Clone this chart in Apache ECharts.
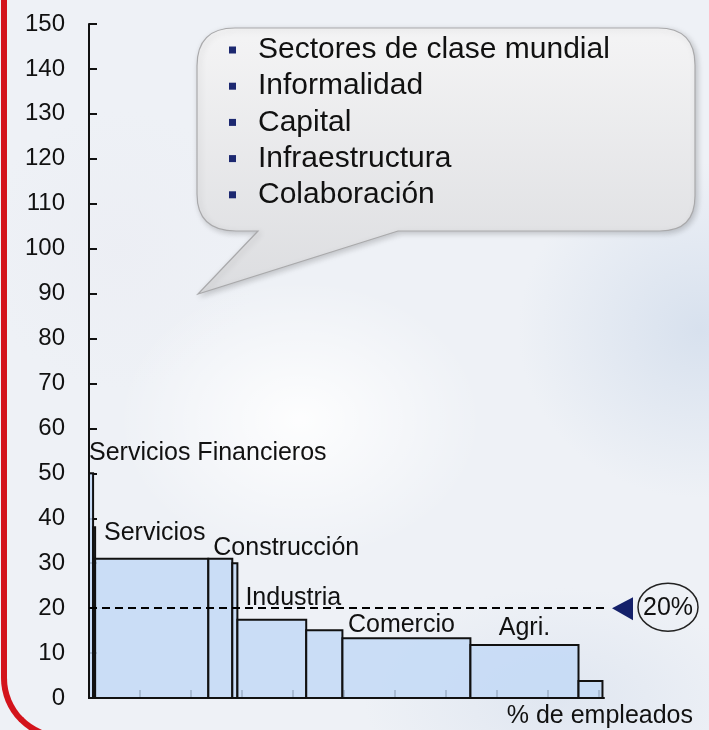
<!doctype html>
<html>
<head>
<meta charset="UTF-8">
<title>% de empleados</title>
<script src="https://cdn.jsdelivr.net/npm/echarts@6/dist/echarts.min.js"></script>
<style>
    html, body { margin: 0; padding: 0; }
    body {
        width: 709px; height: 730px; overflow: hidden; position: relative;
        background:
            radial-gradient(ellipse 260px 200px at 300px 420px, rgba(255,255,255,0.9), rgba(255,255,255,0) 70%),
            radial-gradient(ellipse 260px 240px at 700px 330px, rgba(210,221,236,0.8), rgba(210,221,236,0) 70%),
            radial-gradient(ellipse 200px 200px at 120px 250px, rgba(236,238,244,0.9), rgba(236,238,244,0) 70%),
            radial-gradient(ellipse 280px 160px at 560px 700px, rgba(222,229,240,0.9), rgba(222,229,240,0) 70%),
            #eef1f6;
    }
    #frame {
        position: absolute; left: 1px; top: -20px; width: 800px; height: 760px;
        border-left: 6px solid #d3141c; border-bottom: 6px solid #d3141c;
        border-bottom-left-radius: 62px; box-sizing: border-box;
    }
    #main { position: absolute; left: 0; top: 0; width: 709px; height: 730px; }
</style>
</head>
<body>
<div id="frame"></div>
<div id="main"></div>
<script type="text/javascript">
    // sectores, ancho (% de empleados) y altura de cada barra
    var categories = ['Servicios Financieros', '', 'Servicios', 'Construcción', '', 'Industria', '', 'Comercio', 'Agri.', ''];
    var widths = [0.8, 0.4, 22.2, 4.7, 1.0, 13.5, 7.1, 25.1, 21.2, 4.7];
    var heights = [50, 38, 31, 31, 30, 17.4, 15.1, 13.3, 11.8, 3.8];
    var yTicks = [0, 150, 10];
    var xTickValues = [10, 20, 30, 40, 50, 60, 70, 80, 90, 100];
    var refValue = 20;
    var refText = '20%';
    var bulletItems = ['Sectores de clase mundial', 'Informalidad', 'Capital', 'Infraestructura', 'Colaboración'];

    // posición de las etiquetas (alineación, desplazamiento en px)
    var labelPlace = [
        { align: 'left', dx: 0, dy: -20 },
        null,
        { align: 'center', dx: 3, dy: -26 },
        { align: 'left', dx: 5, dy: -11 },
        null,
        { align: 'left', dx: 8, dy: -22 },
        null,
        { align: 'center', dx: -5, dy: -13 },
        { align: 'center', dx: 0, dy: -17 },
        null
    ];

    var FONT = '"Liberation Sans", Arial, sans-serif';
    var BUBBLE = 'M235 28 L658 28 Q695 28 695 65 L695 196 Q695 231 660 231 L398 231 L198 294 L258 231 L236 231 Q197 231 197 194 L197 66 Q197 28 235 28 Z';

    var barData = [];
    var acc = 0;
    for (var i = 0; i < widths.length; i++) {
        barData.push([acc, acc + widths[i], heights[i], i]);
        acc += widths[i];
    }

    function renderBar(params, api) {
        var idx = api.value(3);
        var p0 = api.coord([api.value(0), api.value(2)]);
        var p1 = api.coord([api.value(1), 0]);
        var children = [{
            type: 'rect',
            shape: { x: p0[0], y: p0[1], width: p1[0] - p0[0], height: p1[1] - p0[1] },
            style: { fill: 'rgba(195,217,246,0.85)', stroke: '#111', lineWidth: 2 }
        }];
        var lp = labelPlace[idx];
        if (categories[idx] && lp) {
            var x = lp.align === 'left' ? p0[0] : (p0[0] + p1[0]) / 2;
            children.push({
                type: 'text',
                style: {
                    x: x + lp.dx, y: p0[1] + lp.dy,
                    text: categories[idx], align: lp.align, verticalAlign: 'middle',
                    fill: '#111', font: '25px ' + FONT
                }
            });
        }
        return { type: 'group', children: children };
    }

    function renderBubble() {
        return {
            type: 'path',
            shape: { pathData: BUBBLE },
            style: {
                fill: {
                    type: 'linear', x: 0, y: 0, x2: 0, y2: 1,
                    colorStops: [
                        { offset: 0, color: '#f4f4f5' },
                        { offset: 1, color: '#dcdde0' }
                    ]
                },
                stroke: '#a9a9ab', lineWidth: 1.2,
                shadowBlur: 6, shadowOffsetX: 2, shadowOffsetY: 2, shadowColor: 'rgba(0,0,0,0.2)'
            }
        };
    }

    var myChart = echarts.init(document.getElementById('main'));
    var option = {
        animation: false,
        grid: { left: 89, top: 24, right: 105, bottom: 32 },
        xAxis: {
            type: 'value', min: 0, max: 101,
            name: '% de empleados', nameLocation: 'end', nameGap: 89,
            nameTextStyle: { fontSize: 25, fontFamily: FONT, color: '#111', align: 'right', verticalAlign: 'top', padding: [6, 0, 0, 0] },
            axisLine: { show: true, lineStyle: { color: '#111', width: 2 } },
            axisTick: { show: true, inside: true, length: 8, customValues: xTickValues, lineStyle: { color: '#111', width: 2 } },
            axisLabel: { show: false },
            splitLine: { show: false }
        },
        yAxis: {
            type: 'value', min: yTicks[0], max: yTicks[1], interval: yTicks[2],
            axisLine: { show: true, lineStyle: { color: '#111', width: 2 } },
            axisTick: { show: true, inside: true, length: 8, lineStyle: { color: '#111', width: 2 } },
            axisLabel: { fontSize: 24, fontFamily: FONT, color: '#111', margin: 24 },
            splitLine: { show: false }
        },
        series: [{
            type: 'custom',
            renderItem: renderBar,
            data: barData,
            encode: { x: [0, 1], y: 2 },
            z: 2,
            markLine: {
                silent: true, symbol: 'none', label: { show: false },
                lineStyle: { color: '#000', width: 2, type: [8, 5] },
                data: [[{ coord: [0, refValue] }, { coord: [101, refValue] }]]
            }
        }, {
            type: 'custom',
            renderItem: renderBubble,
            data: [[0, 0]],
            silent: true,
            z: 1
        }]
    };
    myChart.setOption(option);

    // lista del globo y marca del 20%
    var end = myChart.convertToPixel({ gridIndex: 0 }, [101, refValue]);
    var graphics = [];
    bulletItems.forEach(function (t, i) {
        var cy = 50 + i * 36.2;
        graphics.push({
            type: 'rect', z: 3,
            shape: { x: 229, y: cy - 3.5, width: 7, height: 7 },
            style: { fill: '#1c2870' }
        });
        graphics.push({
            type: 'text', z: 3,
            style: { x: 258, y: cy, text: t, verticalAlign: 'middle', fill: '#111', font: '30px ' + FONT }
        });
    });
    graphics.push({
        type: 'polygon', z: 3,
        shape: { points: [[end[0] + 8, end[1]], [end[0] + 29, end[1] - 11], [end[0] + 29, end[1] + 12]] },
        style: { fill: '#14206a' }
    });
    graphics.push({
        type: 'ellipse', z: 3,
        shape: { cx: end[0] + 64, cy: end[1] - 1, rx: 30, ry: 24 },
        style: { fill: 'none', stroke: '#222', lineWidth: 1.5 }
    });
    graphics.push({
        type: 'text', z: 4,
        style: { x: end[0] + 64, y: end[1], text: refText, align: 'center', verticalAlign: 'middle', fill: '#111', font: '25px ' + FONT }
    });
    myChart.setOption({ graphic: graphics });
</script>
</body>
</html>
